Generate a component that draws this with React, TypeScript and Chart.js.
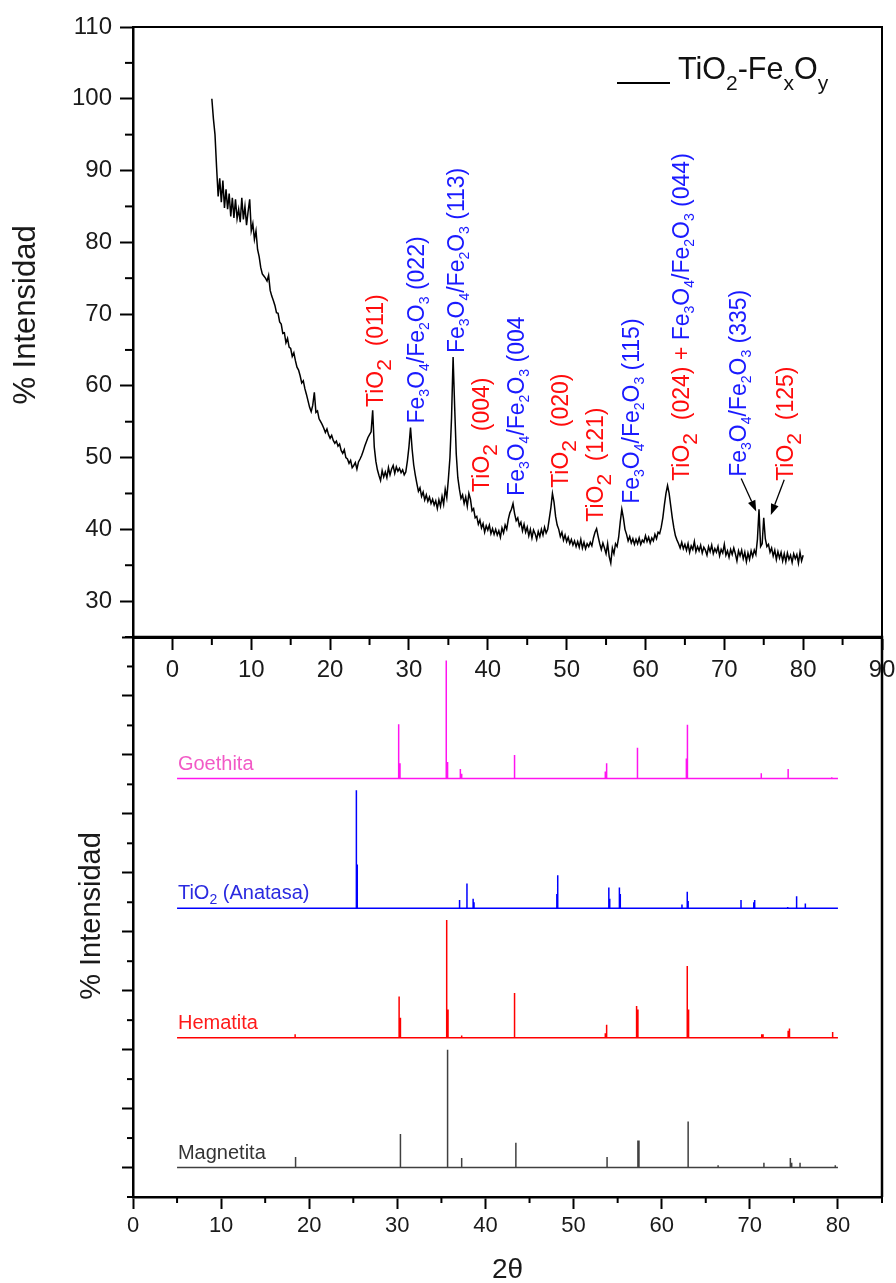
import React, { useEffect, useRef } from 'react';
import { Chart, registerables } from 'chart.js';
Chart.register(...registerables);

const FONT = "'Liberation Sans', Arial, Helvetica, sans-serif";
const RED = '#ff0d0d';
const BLUE = '#1a1aff';

// ---------- Top panel: measured pattern TiO2-FexOy ----------
const TWO_THETA_START = 5;
const TWO_THETA_STEP = 0.2;
const SAMPLE_INTENSITY = [
  100.0, 97.2, 95.0, 90.5, 86.4, 88.9, 85.6, 88.6, 84.8, 87.4,
  84.6, 86.8, 83.6, 86.2, 83.4, 86.0, 83.3, 84.6, 82.8, 86.2,
  83.2, 85.0, 82.4, 84.3, 86.0, 81.6, 82.6, 80.4, 81.6, 79.0,
  78.0, 76.5, 75.6, 75.3, 75.0, 74.6, 75.4, 73.3, 72.5, 71.9,
  71.2, 70.2, 70.1, 68.9, 68.6, 67.3, 67.4, 66.0, 66.6, 65.4,
  65.2, 64.1, 64.6, 63.5, 62.6, 62.2, 61.4, 60.4, 60.7, 59.6,
  58.8, 57.9, 57.0, 56.4, 57.3, 59.1, 56.3, 56.5, 55.4, 55.0,
  54.6, 54.1, 53.5, 54.0, 53.2, 52.7, 53.1, 52.4, 52.0, 52.3,
  51.6, 51.9, 51.0, 50.6, 51.1, 50.0, 49.8, 49.2, 49.6, 48.6,
  48.9, 49.3, 48.4, 49.4, 49.8, 50.3, 50.9, 51.6, 52.2, 52.8,
  53.2, 53.6, 56.6, 51.5, 49.5, 48.3, 47.5, 46.8, 48.2, 47.3,
  48.0, 47.2, 48.6, 47.6, 48.4, 48.9, 47.8, 48.7, 48.1, 48.5,
  47.9, 48.3, 47.6, 48.0, 49.5, 51.5, 54.2, 51.2, 49.0, 47.6,
  46.4, 45.3, 45.8, 44.6, 45.2, 44.1, 44.8, 43.9, 44.5, 43.6,
  44.2, 43.4, 44.0, 42.9, 44.1, 43.2, 44.6, 43.5, 45.6, 44.4,
  47.0, 50.0, 55.5, 64.0, 57.0, 50.5, 47.2, 45.6, 44.3, 44.8,
  43.6, 44.5, 43.2, 45.0, 44.2, 42.6, 42.9, 41.6, 41.8, 40.7,
  41.3, 40.2, 40.8, 39.6, 40.5, 39.9, 40.6, 39.4, 40.1, 39.3,
  40.0, 39.2, 39.8, 38.9, 40.2, 39.5, 40.6, 40.0, 41.4, 42.3,
  42.8, 43.6, 42.2, 41.2, 41.6, 40.5, 41.0, 39.8, 40.7, 39.6,
  40.3, 39.1, 40.0, 38.8, 39.9, 39.4, 38.6, 39.7, 39.0, 40.0,
  39.2, 40.3, 39.5, 40.0, 41.5, 43.0, 45.0, 43.8, 41.8, 40.6,
  40.0, 39.0, 39.6, 38.5, 39.2, 38.3, 38.9, 38.0, 38.6, 37.8,
  38.4, 37.6, 38.3, 37.5, 38.6, 37.4, 38.2, 37.3, 38.0, 37.6,
  38.2, 37.7, 38.8, 39.6, 40.1, 39.0, 38.0, 37.2, 38.1, 37.4,
  36.6, 38.0, 36.2, 35.3, 37.4, 36.6, 38.0, 37.6, 38.9, 41.0,
  42.8, 41.6, 40.0, 39.3, 38.4, 39.0, 38.1, 38.7, 37.9, 38.6,
  38.0, 38.8, 37.9, 38.5, 38.2, 39.1, 38.3, 38.9, 38.1, 38.8,
  38.4, 39.3, 38.7, 39.6, 39.4, 40.3, 41.6, 43.4, 45.0, 46.1,
  45.0, 43.3, 41.6, 40.2, 39.1, 38.5, 38.0, 37.4, 38.2, 37.3,
  37.9, 37.1, 38.0, 36.8, 37.7, 37.2, 38.3, 36.9, 37.6, 37.0,
  37.8, 36.7, 37.5, 37.1, 36.4, 37.6, 36.9, 37.8, 36.6, 37.3,
  36.8, 37.6, 36.3, 37.2, 36.7, 37.9, 36.4, 37.0, 36.1, 37.2,
  36.5, 37.4, 36.6, 35.6, 37.0, 36.3, 37.1, 35.9, 36.8, 35.5,
  36.7, 35.8, 37.0, 36.2, 37.1, 36.5, 38.6, 42.8, 37.6, 38.0,
  41.6, 38.7, 37.6, 37.9, 36.8, 37.4, 36.3, 37.1, 35.8, 36.9,
  36.0, 36.8, 35.6, 36.6, 35.5, 36.7, 35.8, 36.4, 35.4, 36.6,
  35.9, 36.5, 35.3, 36.8, 35.6, 36.4,
];

const TOP_X_TICKS = [0, 10, 20, 30, 40, 50, 60, 70, 80, 90];
const TOP_X_MINOR = [5, 15, 25, 35, 45, 55, 65, 75, 85];
const TOP_Y_TICKS = [30, 40, 50, 60, 70, 80, 90, 100, 110];
const TOP_Y_MINOR = [25, 35, 45, 55, 65, 75, 85, 95, 105];

// peak annotations (2θ of text baseline, intensity where text starts)
const ANNOT_X = [26.65, 31.86, 36.94, 40.12, 44.57, 50.16, 54.6, 59.17, 65.52, 72.76, 78.74];
const ANNOT_Y = [57.05, 54.75, 64.56, 45.22, 44.66, 45.78, 41.05, 43.56, 46.76, 47.32, 46.76];
const ANNOT_TEXT = [
  'TiO~2  (011)',
  'Fe_3O_4/Fe_2O_3 (022)',
  'Fe_3O_4/Fe_2O_3 (113)',
  'TiO~2  (004)',
  'Fe_3O_4/Fe_2O_3 (004',
  'TiO~2  (020)',
  'TiO~2  (121)',
  'Fe_3O_4/Fe_2O_3 (115)',
  'TiO~2  (024) + |Fe_3O_4/Fe_2O_3 (044)',
  'Fe_3O_4/Fe_2O_3 (335)',
  'TiO~2  (125)',
];
const ANNOT_COLOR = [RED, BLUE, BLUE, RED, BLUE, RED, RED, BLUE, RED, BLUE, RED];

const ARROW_FROM_X = [72.14, 77.6];
const ARROW_FROM_Y = [47.1, 46.9];
const ARROW_TO_X = [74.05, 75.9];
const ARROW_TO_Y = [42.5, 42.0];

// ---------- Bottom panel: reference patterns ----------
const BOTTOM_X_TICKS = [0, 10, 20, 30, 40, 50, 60, 70, 80];
const BOTTOM_X_MINOR = [5, 15, 25, 35, 45, 55, 65, 75, 85];
const BOTTOM_Y_TICKS = [0, 1, 2, 3, 4, 5, 6, 7, 8, 9];
const BOTTOM_Y_MINOR = [0.5, 1.5, 2.5, 3.5, 4.5, 5.5, 6.5, 7.5, 8.5];

const PATTERN_X_START = 5;
const PATTERN_X_END = 80;
const PEAK_SCALE = 2.0; // offset units for 100 %

const MAGNETITA_OFFSET = 0;
const MAGNETITA_2T = [18.45, 30.35, 35.7, 37.3, 43.45, 53.8, 57.3, 57.42, 63.0, 66.4, 71.6, 74.6, 74.75, 75.7, 79.7];
const MAGNETITA_I = [9, 28.5, 100, 8, 21, 9, 23, 23, 39, 2, 4, 8, 4, 4, 2];

const HEMATITA_OFFSET = 2.2;
const HEMATITA_2T = [18.4, 30.2, 30.35, 35.6, 35.75, 37.3, 43.3, 53.6, 53.75, 57.15, 57.3, 62.9, 63.05, 71.35, 71.5, 74.35, 74.5, 79.4];
const HEMATITA_I = [3, 35, 17, 100, 24, 2, 38, 4, 11, 27, 24, 61, 24, 3, 3, 6, 8, 5];

const ANATASA_OFFSET = 4.4;
const ANATASA_2T = [25.35, 25.45, 37.0, 37.1, 37.9, 38.6, 38.7, 48.1, 48.2, 54.0, 54.1, 55.2, 55.3, 62.3, 62.9, 63.0, 69.0, 70.45, 70.55, 74.3, 75.25, 75.35, 76.3];
const ANATASA_I = [100, 37, 7, 4, 21, 8, 5, 12, 28, 17.5, 8, 17.5, 12, 3, 14, 6, 7, 5, 7, 1, 9, 10, 4];

const GOETHITA_OFFSET = 6.6;
const GOETHITA_2T = [30.15, 30.3, 35.55, 35.7, 37.15, 37.3, 43.3, 53.6, 53.75, 57.25, 62.8, 62.92, 71.3, 74.35, 79.3];
const GOETHITA_I = [46, 13, 100, 14, 8, 4, 20, 6, 13, 26, 17, 45.5, 4.5, 8, 1];

const PATTERN_NAMES = ['Magnetita', 'Hematita', 'TiO_2 (Anatasa)', 'Goethita'];
const PATTERN_LINE_COLORS = ['#404040', '#ff0000', '#0000ff', '#ff14f0'];
const PATTERN_LABEL_COLORS = ['#333333', '#ff1a1a', '#2a2ae0', '#f25ac6'];
const PATTERN_LABEL_X = 5.1;
const PATTERN_LABEL_LIFT = 0.15;

type Seg = { text: string; size: number; dy: number; color: string };

function parseLabel(spec: string, color: string, base: number, subSize: number, subDy: number, bigSize: number, bigDy: number): Seg[] {
  const segs: Seg[] = [];
  let cur = '';
  let col = color;
  const flush = () => {
    if (cur) { segs.push({ text: cur, size: base, dy: 0, color: col }); cur = ''; }
  };
  for (let i = 0; i < spec.length; i++) {
    const c = spec[i];
    if (c === '_') { flush(); segs.push({ text: spec[++i], size: subSize, dy: subDy, color: col }); }
    else if (c === '~') { flush(); segs.push({ text: spec[++i], size: bigSize, dy: bigDy, color: col }); }
    else if (c === '|') { flush(); col = col === RED ? BLUE : RED; }
    else cur += c;
  }
  flush();
  return segs;
}

function drawSegs(ctx: CanvasRenderingContext2D, x: number, y: number, segs: Seg[], rotate: boolean) {
  ctx.save();
  ctx.translate(x, y);
  if (rotate) ctx.rotate(-Math.PI / 2);
  ctx.textBaseline = 'alphabetic';
  ctx.textAlign = 'left';
  let cx = 0;
  for (const s of segs) {
    ctx.font = `${s.size}px ${FONT}`;
    ctx.fillStyle = s.color;
    ctx.fillText(s.text, cx, s.dy);
    cx += ctx.measureText(s.text).width;
  }
  ctx.restore();
}

function tick(ctx: CanvasRenderingContext2D, x1: number, y1: number, x2: number, y2: number) {
  ctx.beginPath();
  ctx.moveTo(x1, y1);
  ctx.lineTo(x2, y2);
  ctx.stroke();
}

function stickData(pos: number[], inten: number[], base: number) {
  const order = pos.map((_, i) => i).sort((a, b) => pos[a] - pos[b]);
  const pts: { x: number; y: number }[] = [{ x: PATTERN_X_START, y: base }];
  for (const i of order) {
    pts.push({ x: pos[i], y: base });
    pts.push({ x: pos[i], y: base + (inten[i] / 100) * PEAK_SCALE });
    pts.push({ x: pos[i], y: base });
  }
  pts.push({ x: PATTERN_X_END, y: base });
  return pts;
}

const topDecor = {
  id: 'topDecor',
  afterDraw(chart: any) {
    const { ctx, chartArea: a } = chart;
    const x = chart.scales.x;
    const y = chart.scales.y;
    ctx.save();
    ctx.strokeStyle = '#000';
    ctx.lineWidth = 2;
    ctx.beginPath();
    ctx.moveTo(a.left, a.top);
    ctx.lineTo(a.right, a.top);
    ctx.lineTo(a.right, a.bottom);
    ctx.stroke();
    for (const v of TOP_Y_MINOR) {
      const py = y.getPixelForValue(v);
      tick(ctx, a.left - 8, py, a.left, py);
    }
    for (const v of TOP_X_MINOR) {
      const px = x.getPixelForValue(v);
      tick(ctx, px, a.bottom, px, a.bottom + 8);
    }
    // legend
    ctx.lineWidth = 2;
    tick(ctx, a.right - 265, a.top + 56, a.right - 212, a.top + 56);
    drawSegs(ctx, a.right - 204, a.top + 52, parseLabel('TiO_2-Fe_xO_y', '#111', 30.5, 21, 11, 21, 11), false);
    // annotations
    for (let i = 0; i < ANNOT_TEXT.length; i++) {
      const px = x.getPixelForValue(ANNOT_X[i]);
      const py = y.getPixelForValue(ANNOT_Y[i]);
      drawSegs(ctx, px, py, parseLabel(ANNOT_TEXT[i], ANNOT_COLOR[i], 23, 14, 5, 21, 8), true);
    }
    // arrows
    ctx.strokeStyle = '#000';
    ctx.fillStyle = '#000';
    ctx.lineWidth = 1.3;
    for (let i = 0; i < ARROW_FROM_X.length; i++) {
      const x1 = x.getPixelForValue(ARROW_FROM_X[i]);
      const y1 = y.getPixelForValue(ARROW_FROM_Y[i]);
      const x2 = x.getPixelForValue(ARROW_TO_X[i]);
      const y2 = y.getPixelForValue(ARROW_TO_Y[i]);
      const ang = Math.atan2(y2 - y1, x2 - x1);
      const L = 11, W = 4;
      const bx = x2 - L * Math.cos(ang), by = y2 - L * Math.sin(ang);
      tick(ctx, x1, y1, bx, by);
      ctx.beginPath();
      ctx.moveTo(x2, y2);
      ctx.lineTo(bx + W * Math.sin(ang), by - W * Math.cos(ang));
      ctx.lineTo(bx - W * Math.sin(ang), by + W * Math.cos(ang));
      ctx.closePath();
      ctx.fill();
    }
    // y title
    ctx.save();
    ctx.translate(26, (a.top + a.bottom) / 2 - 17);
    ctx.rotate(-Math.PI / 2);
    ctx.font = `31px ${FONT}`;
    ctx.fillStyle = '#1a1a1a';
    ctx.textAlign = 'center';
    ctx.textBaseline = 'middle';
    ctx.fillText('% Intensidad', 0, 0);
    ctx.restore();
    ctx.restore();
  },
};

const bottomDecor = {
  id: 'bottomDecor',
  afterDraw(chart: any) {
    const { ctx, chartArea: a } = chart;
    const x = chart.scales.x;
    const y = chart.scales.y;
    ctx.save();
    ctx.strokeStyle = '#000';
    ctx.lineWidth = 2.5;
    ctx.beginPath();
    ctx.moveTo(a.left, a.top);
    ctx.lineTo(a.right, a.top);
    ctx.lineTo(a.right, a.bottom);
    ctx.stroke();
    ctx.lineWidth = 2;
    for (const v of BOTTOM_Y_MINOR) {
      const py = y.getPixelForValue(v);
      tick(ctx, a.left - 6, py, a.left, py);
    }
    tick(ctx, a.left - 6, a.bottom, a.left, a.bottom);
    for (const v of BOTTOM_X_MINOR) {
      const px = x.getPixelForValue(v);
      tick(ctx, px, a.bottom, px, a.bottom + 6);
    }
    const offsets = [MAGNETITA_OFFSET, HEMATITA_OFFSET, ANATASA_OFFSET, GOETHITA_OFFSET];
    for (let i = 0; i < PATTERN_NAMES.length; i++) {
      const px = x.getPixelForValue(PATTERN_LABEL_X);
      const py = y.getPixelForValue(offsets[i] + PATTERN_LABEL_LIFT);
      drawSegs(ctx, px, py, parseLabel(PATTERN_NAMES[i], PATTERN_LABEL_COLORS[i], 20, 14, 5, 14, 5), false);
    }
    ctx.fillStyle = '#1a1a1a';
    ctx.textAlign = 'center';
    ctx.textBaseline = 'middle';
    ctx.font = `28px ${FONT}`;
    ctx.fillText('2\u03b8', (a.left + a.right) / 2, 650);
    ctx.save();
    ctx.translate(92, (a.top + a.bottom) / 2 - 1);
    ctx.rotate(-Math.PI / 2);
    ctx.font = `29px ${FONT}`;
    ctx.fillText('% Intensidad', 0, 0);
    ctx.restore();
    ctx.restore();
  },
};

const axisGrid = (len: number) => ({
  display: true,
  drawOnChartArea: false,
  drawTicks: true,
  tickLength: len,
  tickWidth: 2,
  tickColor: '#000',
});
const axisBorder = (w: number) => ({ display: true, color: '#000', width: w });

export default function App() {
  const topRef = useRef<HTMLCanvasElement>(null);
  const botRef = useRef<HTMLCanvasElement>(null);

  useEffect(() => {
    const sample = SAMPLE_INTENSITY.map((v, i) => ({ x: TWO_THETA_START + i * TWO_THETA_STEP, y: v }));
    const top = new Chart(topRef.current as HTMLCanvasElement, {
      type: 'line',
      data: {
        datasets: [
          { data: sample, borderColor: '#000', borderWidth: 1.5, pointRadius: 0, tension: 0, fill: false },
        ],
      },
      options: {
        animation: false,
        responsive: false,
        maintainAspectRatio: false,
        layout: { padding: { left: 0, top: 27, right: 14, bottom: 0 } },
        plugins: { legend: { display: false }, tooltip: { enabled: false } },
        scales: {
          x: {
            type: 'linear',
            min: -5,
            max: 90,
            afterBuildTicks: (s: any) => { s.ticks = TOP_X_TICKS.map((v) => ({ value: v })); },
            afterFit: (s: any) => { s.height = 83; s.paddingLeft = 0; s.paddingRight = 0; },
            grid: axisGrid(13),
            border: axisBorder(3),
            ticks: { font: { family: FONT, size: 24 }, color: '#1a1a1a', padding: 6, maxRotation: 0, autoSkip: false },
          },
          y: {
            type: 'linear',
            min: 25,
            max: 110,
            afterBuildTicks: (s: any) => { s.ticks = TOP_Y_TICKS.map((v) => ({ value: v })); },
            afterFit: (s: any) => { s.width = 133; s.paddingTop = 0; s.paddingBottom = 0; },
            grid: axisGrid(13),
            border: axisBorder(2.5),
            ticks: { font: { family: FONT, size: 24 }, color: '#1a1a1a', padding: 8 },
          },
        },
      } as any,
      plugins: [topDecor],
    });

    const mk = (pos: number[], inten: number[], base: number, color: string) => ({
      data: stickData(pos, inten, base),
      borderColor: color,
      borderWidth: 1.5,
      pointRadius: 0,
      tension: 0,
      fill: false,
    });

    const bot = new Chart(botRef.current as HTMLCanvasElement, {
      type: 'line',
      data: {
        datasets: [
          mk(MAGNETITA_2T, MAGNETITA_I, MAGNETITA_OFFSET, PATTERN_LINE_COLORS[0]),
          mk(HEMATITA_2T, HEMATITA_I, HEMATITA_OFFSET, PATTERN_LINE_COLORS[1]),
          mk(ANATASA_2T, ANATASA_I, ANATASA_OFFSET, PATTERN_LINE_COLORS[2]),
          mk(GOETHITA_2T, GOETHITA_I, GOETHITA_OFFSET, PATTERN_LINE_COLORS[3]),
        ],
      },
      options: {
        animation: false,
        responsive: false,
        maintainAspectRatio: false,
        layout: { padding: { left: 0, top: 17, right: 14, bottom: 0 } },
        plugins: { legend: { display: false }, tooltip: { enabled: false } },
        scales: {
          x: {
            type: 'linear',
            min: 0,
            max: 85,
            afterBuildTicks: (s: any) => { s.ticks = BOTTOM_X_TICKS.map((v) => ({ value: v })); },
            afterFit: (s: any) => { s.height = 86; s.paddingLeft = 0; s.paddingRight = 0; },
            grid: axisGrid(12),
            border: axisBorder(2.5),
            ticks: { font: { family: FONT, size: 22 }, color: '#1a1a1a', padding: 3.5, maxRotation: 0, autoSkip: false },
          },
          y: {
            type: 'linear',
            min: -0.5,
            max: 9,
            afterBuildTicks: (s: any) => { s.ticks = BOTTOM_Y_TICKS.map((v) => ({ value: v })); },
            afterFit: (s: any) => { s.width = 133; },
            grid: axisGrid(11),
            border: axisBorder(2.5),
            ticks: { display: false },
          },
        },
      } as any,
      plugins: [bottomDecor],
    });

    return () => {
      top.destroy();
      bot.destroy();
    };
  }, []);

  return (
    <div style={{ position: 'absolute', left: 0, top: 0, width: 896, height: 1283, background: '#fff', overflow: 'hidden' }}>
      <canvas ref={botRef} width={896} height={663} style={{ position: 'absolute', left: 0, top: 620, width: 896, height: 663 }} />
      <canvas ref={topRef} width={896} height={720} style={{ position: 'absolute', left: 0, top: 0, width: 896, height: 720 }} />
    </div>
  );
}
